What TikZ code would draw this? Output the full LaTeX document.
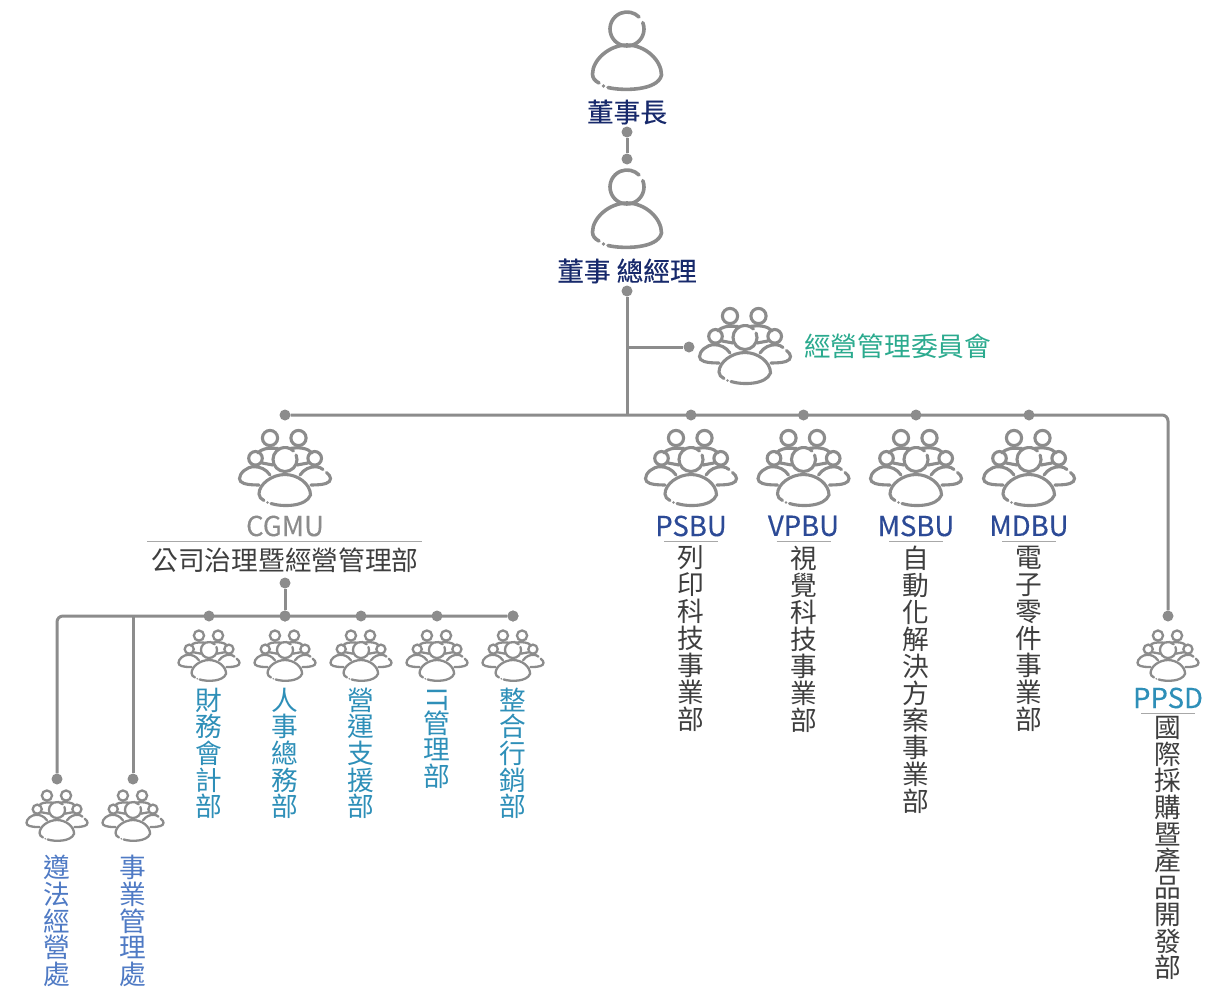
\documentclass[tikz,border=0pt]{standalone}
\usepackage{fontspec}
\setmainfont{Noto Sans CJK TC}
\newfontfamily\medfont[FakeBold=0.35]{Noto Sans CJK TC}
\usetikzlibrary{positioning}
\definecolor{linegrey}{HTML}{8C8C8C}
\definecolor{rulegrey}{HTML}{A8A8A8}
\definecolor{navy}{HTML}{17296B}
\definecolor{teal}{HTML}{2BAA8E}
\definecolor{buname}{HTML}{2C4A96}
\definecolor{deptblue}{HTML}{2E8FB8}
\definecolor{officeblue}{HTML}{4F7AC4}
\definecolor{darktext}{HTML}{3E3E3E}
\tikzset{
  bus/.style={draw=linegrey,line width=3pt},
  dot/.style={circle,fill=linegrey,minimum size=11pt,inner sep=0pt},
  txt/.style={inner sep=0pt,font=\fontsize{26.7}{26.7}\selectfont},
  nametxt/.style={inner sep=0pt,font=\medfont\fontsize{27.5}{27.5}\selectfont},
  headtxt/.style={inner sep=0pt,font=\medfont\fontsize{26.7}{26.7}\selectfont},
  vtxt/.style={txt,anchor=north,align=center},
  icon/.style={draw=linegrey,line cap=round,fill=none},
  bigicon/.style={icon,line width=3.1pt},
  personicon/.style={icon,line width=3.6pt},
  smallicon/.style={icon,scale=.67,line width=2.3pt},
  pics/person/.style={code={
    \draw (0,-21) ++(-22:17) arc[start angle=-22,end angle=315,radius=17];
    \draw (-19,37.5) .. controls (-5,41) and (31,41) .. (34.5,25) .. controls (34.5,10) and (18,-5) .. (0,-5) .. controls (-18,-5) and (-34.5,10) .. (-34.5,24) .. controls (-34.5,28) and (-32,31) .. (-28,33);
    \fill[linegrey] (-23.5,36) circle (1.9);
  }},
  pics/group/.style={code={
    \draw (0,-10.5) ++(-22:12) arc[start angle=-22,end angle=315,radius=12];
    \draw (-15,-32) circle (7.6);
    \draw (13.5,-32) circle (7.6);
    \draw (-29.5,-11.7) circle (6.8);
    \draw (29.7,-11.7) circle (6.8);
    \draw (-14,33.5) .. controls (-3,37) and (21,37) .. (25.5,25) .. controls (25.5,14) and (13,4.5) .. (0,4.5) .. controls (-13,4.5) and (-26,14) .. (-26,24) .. controls (-26,27) and (-24,29) .. (-21,30.5);
    \fill[linegrey] (-17.5,32.5) circle (1.4);
    \draw (-15,5) .. controls (-19,-1) and (-25,-3.3) .. (-31,-3.3) .. controls (-38,-3.3) and (-45.5,3) .. (-45.5,8.5) .. controls (-45.5,13) and (-40,15) .. (-26,15);
    \draw (15,5) .. controls (19,-1) and (25,-3.3) .. (31,-3.3) .. controls (34,-3.3) and (36,-2) .. (38,-.5);
    \draw (41.5,2.5) .. controls (44,4.5) and (45.5,6.5) .. (45.5,8.5) .. controls (45.5,13) and (40,15) .. (26,15);
    \draw (-27,-17) .. controls (-24,-21) and (-18,-22.5) .. (-7,-21.5);
    \draw (5,-21.5) .. controls (14,-23) and (23,-22) .. (27,-17);
    \draw (-23,-7) -- (-12,-5);
    \draw (23,-7) -- (12,-5);
  }}
}
\begin{document}
\begin{tikzpicture}[x=1pt,y=-1pt]
\useasboundingbox (0,0) rectangle (1221,988);
% top of the chart
\pic[personicon] (chair) at (627,50) {person};
\node[headtxt,text=navy] (chairtxt) at (627,112) {董事長};
\node[dot] (d1) at (627,132) {};
\node[dot] (d2) at (627,159) {};
\draw[bus] (d1) -- (d2);
\pic[personicon] (gm) at (627,208) {person};
\node[headtxt,text=navy] (gmtxt) at (627,271) {董事 總經理};
\node[dot] (d3) at (627,291) {};
\coordinate (j1) at (627,347);
\coordinate (j2) at (627,415);
\draw[bus] (d3) -- (j2);
% committee
\node[dot] (d4) at (689,347) {};
\draw[bus] (j1) -- (d4);
\pic[bigicon] (mc) at (745,348) {group};
\node[txt,text=teal,anchor=west] (mctxt) at (804,346) {經營管理委員會};
% first row
\node[dot] (cgdot) at (285,415) {};
\node[dot] (ppsddot) at (1168,616) {};
\draw[bus,rounded corners=6pt] (cgdot) -| (ppsddot);
\pic[bigicon] (cg) at (285,470) {group};
\node[nametxt,text=linegrey] (cgname) at (285,526) {CGMU};
\draw[rulegrey,line width=1pt] (147,541) -- (422,541);
\node[txt,text=darktext] (cgtxt) at (285,560) {公司治理暨經營管理部};
\foreach \x/\nm/\lbl in {691/PSBU/{列\\印\\科\\技\\事\\業\\部},
    803.5/VPBU/{視\\覺\\科\\技\\事\\業\\部},
    916/MSBU/{自\\動\\化\\解\\決\\方\\案\\事\\業\\部},
    1029/MDBU/{電\\子\\零\\件\\事\\業\\部}} {
  \node[dot] (top\nm) at (\x,415) {};
  \pic[bigicon] (icon\nm) at (\x,470) {group};
  \node[nametxt,text=buname] (name\nm) at (\x,526) {\nm};
  \draw[rulegrey,line width=1pt] (\x-27,541) -- (\x+27,541);
  \node[vtxt,text=darktext,font=\fontsize{26.7}{27}\selectfont] (txt\nm) at (\x,545.5) {\lbl};
}
% PPSD
\pic[smallicon] (ppsd) at (1168,657) {group};
\node[nametxt,text=deptblue] (ppsdname) at (1168,698) {PPSD};
\draw[rulegrey,line width=1pt] (1141,713) -- (1195,713);
\node[vtxt,text=darktext] (ppsdtxt) at (1168,716) {國\\際\\採\\購\\暨\\產\\品\\開\\發\\部};
% second row
\node[dot] (d5) at (285,583) {};
\node[dot] (dept3) at (285,616) {};
\draw[bus] (d5) -- (dept3);
\node[dot] (off1) at (57,779) {};
\node[dot] (off2) at (133,779) {};
\coordinate (j3) at (133,616);
\node[dot] (dept1) at (513,616) {};
\draw[bus,rounded corners=6pt] (dept1) -| (off1);
\draw[bus] (j3) -- (off2);
\foreach \x/\id/\lbl in {209/a/{財\\務\\會\\計\\部},285/b/{人\\事\\總\\務\\部},
    361/c/{營\\運\\支\\援\\部},437/d/{\rotatebox{-90}{IT}\\[-2pt]管\\理\\部},513/e/{整\\合\\行\\銷\\部}} {
  \node[dot] (dot\id) at (\x,616) {};
  \pic[smallicon] (icon\id) at (\x,657) {group};
  \node[vtxt,text=deptblue] (txt\id) at (\x,687.5) {\lbl};
}
\foreach \x/\id/\lbl in {57/f/{遵\\法\\經\\營\\處},133/g/{事\\業\\管\\理\\處}} {
  \pic[smallicon] (icon\id) at (\x,817) {group};
  \node[vtxt,text=officeblue] (txt\id) at (\x,855) {\lbl};
}
\end{tikzpicture}
\end{document}
